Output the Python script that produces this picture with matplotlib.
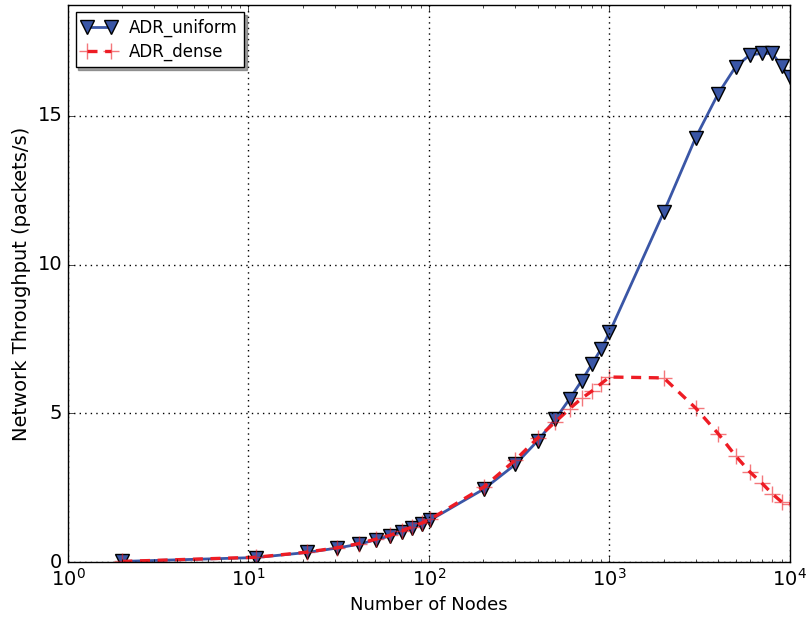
import matplotlib
matplotlib.use("Agg")
import matplotlib.pyplot as plt

nodes = [2, 11, 21, 31, 41, 51, 61, 71, 81, 91, 101,
         201, 301, 401, 501, 601, 701, 801, 901, 1001,
         2001, 3001, 4001, 5001, 6001, 7001, 8001, 9001, 10001]
adr_uniform = [0.02, 0.15, 0.32, 0.47, 0.60, 0.75, 0.88, 1.02, 1.15, 1.28, 1.40,
               2.45, 3.28, 4.08, 4.80, 5.48, 6.09, 6.66, 7.17, 7.72,
               11.77, 14.26, 15.74, 16.65, 17.05, 17.10, 17.10, 16.68, 16.31]
adr_dense = [0.02, 0.16, 0.33, 0.48, 0.62, 0.77, 0.90, 1.05, 1.18, 1.31, 1.43,
             2.52, 3.43, 4.17, 4.71, 5.15, 5.50, 5.75, 6.00, 6.22,
             6.19, 5.18, 4.32, 3.57, 3.03, 2.65, 2.29, 2.02, 1.95]

plt.style.use('classic')
plt.rcParams['mathtext.fontset'] = 'dejavusans'
plt.rcParams['font.family'] = ['DejaVu Sans']

fig = plt.figure(figsize=(8.06, 6.18), dpi=100, facecolor='white')
ax = fig.add_axes([0.0844, 0.0906, 0.8956, 0.9014])
ax.set_facecolor('white')

ax.plot(nodes, adr_uniform, color='#3a56a6', linewidth=2, marker='v',
        markersize=10, markerfacecolor='#3a56a6', markeredgecolor='black',
        markeredgewidth=1, label='ADR_uniform')
ax.plot(nodes, adr_dense, color='#ee1c24', linewidth=2.4, linestyle='--',
        dashes=(7.2, 5.5), marker='+', markersize=11, markeredgewidth=1,
        markeredgecolor=(0.93, 0.11, 0.14, 0.6), label='ADR_dense')

ax.set_xscale('log')
ax.set_xlim(1, 1e4)
ax.set_ylim(0, 18.73)
ax.set_yticks([0, 5, 10, 15])
ax.grid(True, which='major', color='black', linestyle=':', linewidth=1)
ax.set_xlabel('Number of Nodes', fontsize=13)
ax.set_ylabel('Network Throughput (packets/s)', fontsize=14)
ax.tick_params(labelsize=14)

leg = ax.legend(loc='upper left', shadow=True, fancybox=False, numpoints=2,
                fontsize=12, borderaxespad=0.45, labelspacing=0.3)

fig.savefig('out.png', dpi=100, facecolor='white')
